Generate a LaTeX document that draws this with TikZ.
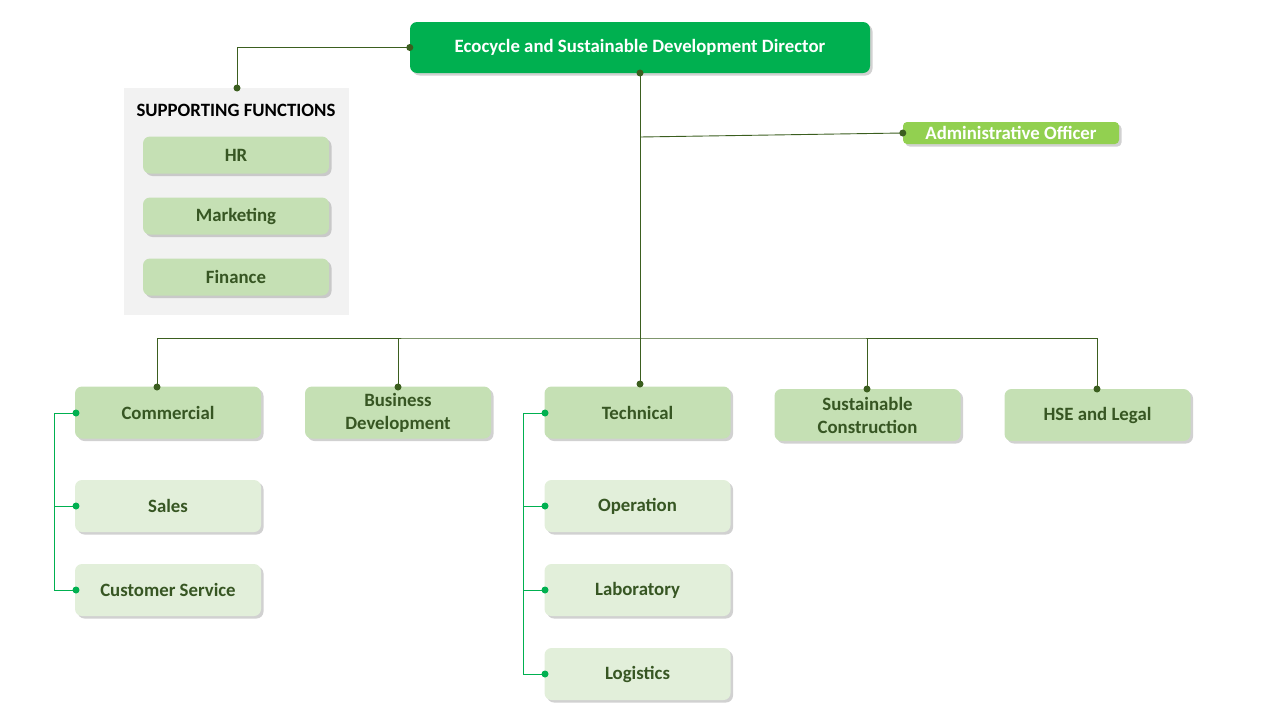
\documentclass[tikz,border=0pt]{standalone}
\usepackage{fontspec}
\setmainfont{Carlito}
\usetikzlibrary{shadows}
\definecolor{dgreen}{HTML}{00B050}
\definecolor{lgreen}{HTML}{92D050}
\definecolor{boxA}{HTML}{C5E0B4}
\definecolor{boxB}{HTML}{E2EFDA}
\definecolor{txt}{HTML}{375623}
\definecolor{linec}{HTML}{3B5E1F}
\definecolor{panel}{HTML}{F2F2F2}
\tikzset{
  base/.style={rounded corners=7pt, align=center, inner sep=0pt,
    font=\fontsize{18.8}{23}\selectfont\bfseries,
    drop shadow={shadow xshift=2.5pt, shadow yshift=-2.5pt, fill=black!45, opacity=0.4}},
  mainbox/.style={base, fill=boxA, text=txt, minimum width=186pt, minimum height=52pt},
  subbox/.style={base, fill=boxB, text=txt, minimum width=186pt, minimum height=52pt},
  supbox/.style={base, fill=boxA, text=txt, minimum width=186pt, minimum height=37pt},
  conn/.style={draw=linec, line width=0.9pt},
  gconn/.style={draw=dgreen, line width=0.9pt},
  dotd/.style={circle, fill=linec, inner sep=0pt, minimum size=7pt},
  dotg/.style={circle, fill=dgreen, inner sep=0pt, minimum size=7pt}
}
\begin{document}
\begin{tikzpicture}[x=1pt,y=-1pt]
\useasboundingbox (0,0) rectangle (1280,720);
% panel
\node[fill=panel, minimum width=225pt, minimum height=227pt, inner sep=0pt] (sup) at (236.5,201.5) {};
\node[font=\fontsize{18.8}{23}\selectfont\bfseries, text=black] (suptitle) at (236,110) {SUPPORTING FUNCTIONS};
\node[supbox] (hr) at (236,155) {HR};
\node[supbox] (mkt) at (236,216) {Marketing};
\node[supbox] (fin) at (236,277) {Finance};
% director
\node[base, fill=dgreen, text=white, minimum width=460pt, minimum height=51pt] (dir) at (640,47.5) {Ecocycle and Sustainable Development Director};
% admin
\node[base, fill=lgreen, text=white, rounded corners=4pt, minimum width=216pt, minimum height=22pt] (adm) at (1011,133) {Administrative Officer};
% level 2
\node[mainbox] (com) at (168,412.5) {Commercial};
\node[mainbox] (bd) at (398,412.5) {Business\\Development};
\node[mainbox] (tec) at (637.5,412.5) {Technical};
\node[mainbox] (sc) at (867.5,415) {Sustainable\\Construction};
\node[mainbox] (hse) at (1097.5,415) {HSE and Legal};
% level 3
\node[subbox] (sal) at (168,506) {Sales};
\node[subbox] (cs) at (168,590) {Customer Service};
\node[subbox] (op) at (637.5,506) {Operation};
\node[subbox] (lab) at (637.5,590) {Laboratory};
\node[subbox] (log) at (637.5,674) {Logistics};
% coordinates
\coordinate (dirb) at (640,73);
\coordinate (aj) at (640,137);
\coordinate (bus) at (640,338);
\coordinate (sj) at (237,47);
% connectors
\draw[conn] (dir.west) -| (sup.north -| sj);
\draw[conn] (dirb) -- (640,384);
\draw[conn] (aj) -- (adm.west);
\draw[conn] (157,387) |- (bus) -| (1097,389);
\draw[conn] (398,338) -- (398,387);
\draw[conn] (867,338) -- (867,389);
% green sub connectors
\draw[gconn] (76,413) -- (54,413) -- (54,590) -- (76,590);
\draw[gconn] (54,506) -- (76,506);
\draw[gconn] (545,413) -- (523,413) -- (523,674) -- (545,674);
\draw[gconn] (523,506) -- (545,506);
\draw[gconn] (523,590) -- (545,590);
% dots
\node[dotd] at (dir.west) {};
\node[dotd] at (dirb) {};
\node[dotd] at (237,88) {};
\node[dotd] at (adm.west) {};
\node[dotd] at (157,387) {};
\node[dotd] at (398,387) {};
\node[dotd] at (640,384) {};
\node[dotd] at (867,389) {};
\node[dotd] at (1097,389) {};
\node[dotg] at (76,413) {};
\node[dotg] at (76,506) {};
\node[dotg] at (76,590) {};
\node[dotg] at (545,413) {};
\node[dotg] at (545,506) {};
\node[dotg] at (545,590) {};
\node[dotg] at (545,674) {};
\end{tikzpicture}
\end{document}
